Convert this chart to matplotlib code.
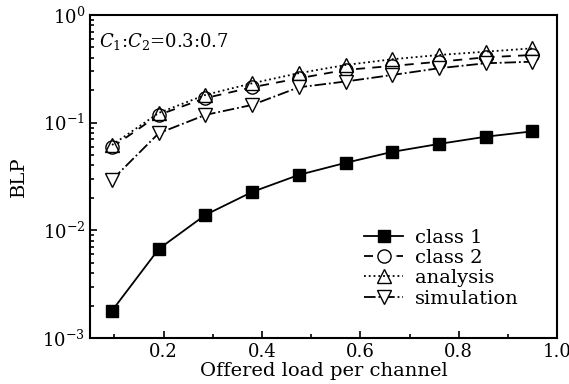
import numpy as np
import matplotlib
matplotlib.use('Agg')
import matplotlib.pyplot as plt

matplotlib.rcParams.update({'font.family': 'DejaVu Serif', 'mathtext.fontset': 'dejavuserif',
                            'font.size': 13})

load = [0.095, 0.19, 0.285, 0.38, 0.475, 0.57, 0.665, 0.76, 0.855, 0.95]
class1 = [0.00179, 0.0067, 0.0139, 0.0227, 0.0327, 0.0423, 0.0535, 0.0634, 0.074, 0.083]
class2 = [0.059, 0.118, 0.169, 0.213, 0.258, 0.309, 0.336, 0.368, 0.404, 0.425]
analysis = [0.062, 0.123, 0.181, 0.232, 0.288, 0.343, 0.388, 0.425, 0.456, 0.49]
simulation = [0.0294, 0.0797, 0.118, 0.146, 0.213, 0.241, 0.277, 0.32, 0.356, 0.368]

fig = plt.figure(figsize=(5.69, 3.84), dpi=100)
ax = fig.add_axes([0.158, 0.12, 0.821, 0.841])

ax.plot(load, class1, '-', color='black', marker='s', ms=9, mfc='black', lw=1.3, label='class 1')
ax.plot(load, class2, '--', color='black', marker='o', ms=9.5, mfc='white', lw=1.3, label='class 2',
        dashes=(5, 4))
ax.plot(load, analysis, ':', color='black', marker='^', ms=10.5, mfc='none', lw=1.3, label='analysis')
ax.plot(load, simulation, '-.', color='black', marker='v', ms=10.5, mfc='white', lw=1.3, label='simulation')

ax.set_yscale('log')
ax.set_ylim(1e-3, 1)
ax.set_xlim(0.05, 1.0)
ax.set_xticks([0.2, 0.4, 0.6, 0.8, 1.0])
ax.set_xticklabels(['0.2', '0.4', '0.6', '0.8', '1.0'])
ax.set_xticks([0.1, 0.3, 0.5, 0.7, 0.9], minor=True)
ax.tick_params(which='both', direction='in', top=False, right=False, width=1.2)
ax.tick_params(which='major', length=5)
ax.tick_params(which='minor', length=3)
for s in ax.spines.values():
    s.set_linewidth(1.5)

ax.set_xlabel('Offered load per channel', fontsize=14, labelpad=1)
ax.set_ylabel('BLP', fontsize=14, labelpad=10)
ax.text(0.02, 0.9, r'$C_1$:$C_2$=0.3:0.7', transform=ax.transAxes, fontsize=13)

ax.legend(loc='lower right', bbox_to_anchor=(0.955, 0.04), frameon=False, handlelength=2.0,
          handletextpad=0.6, labelspacing=0.12, fontsize=14)

fig.savefig('out.png', dpi=100)
